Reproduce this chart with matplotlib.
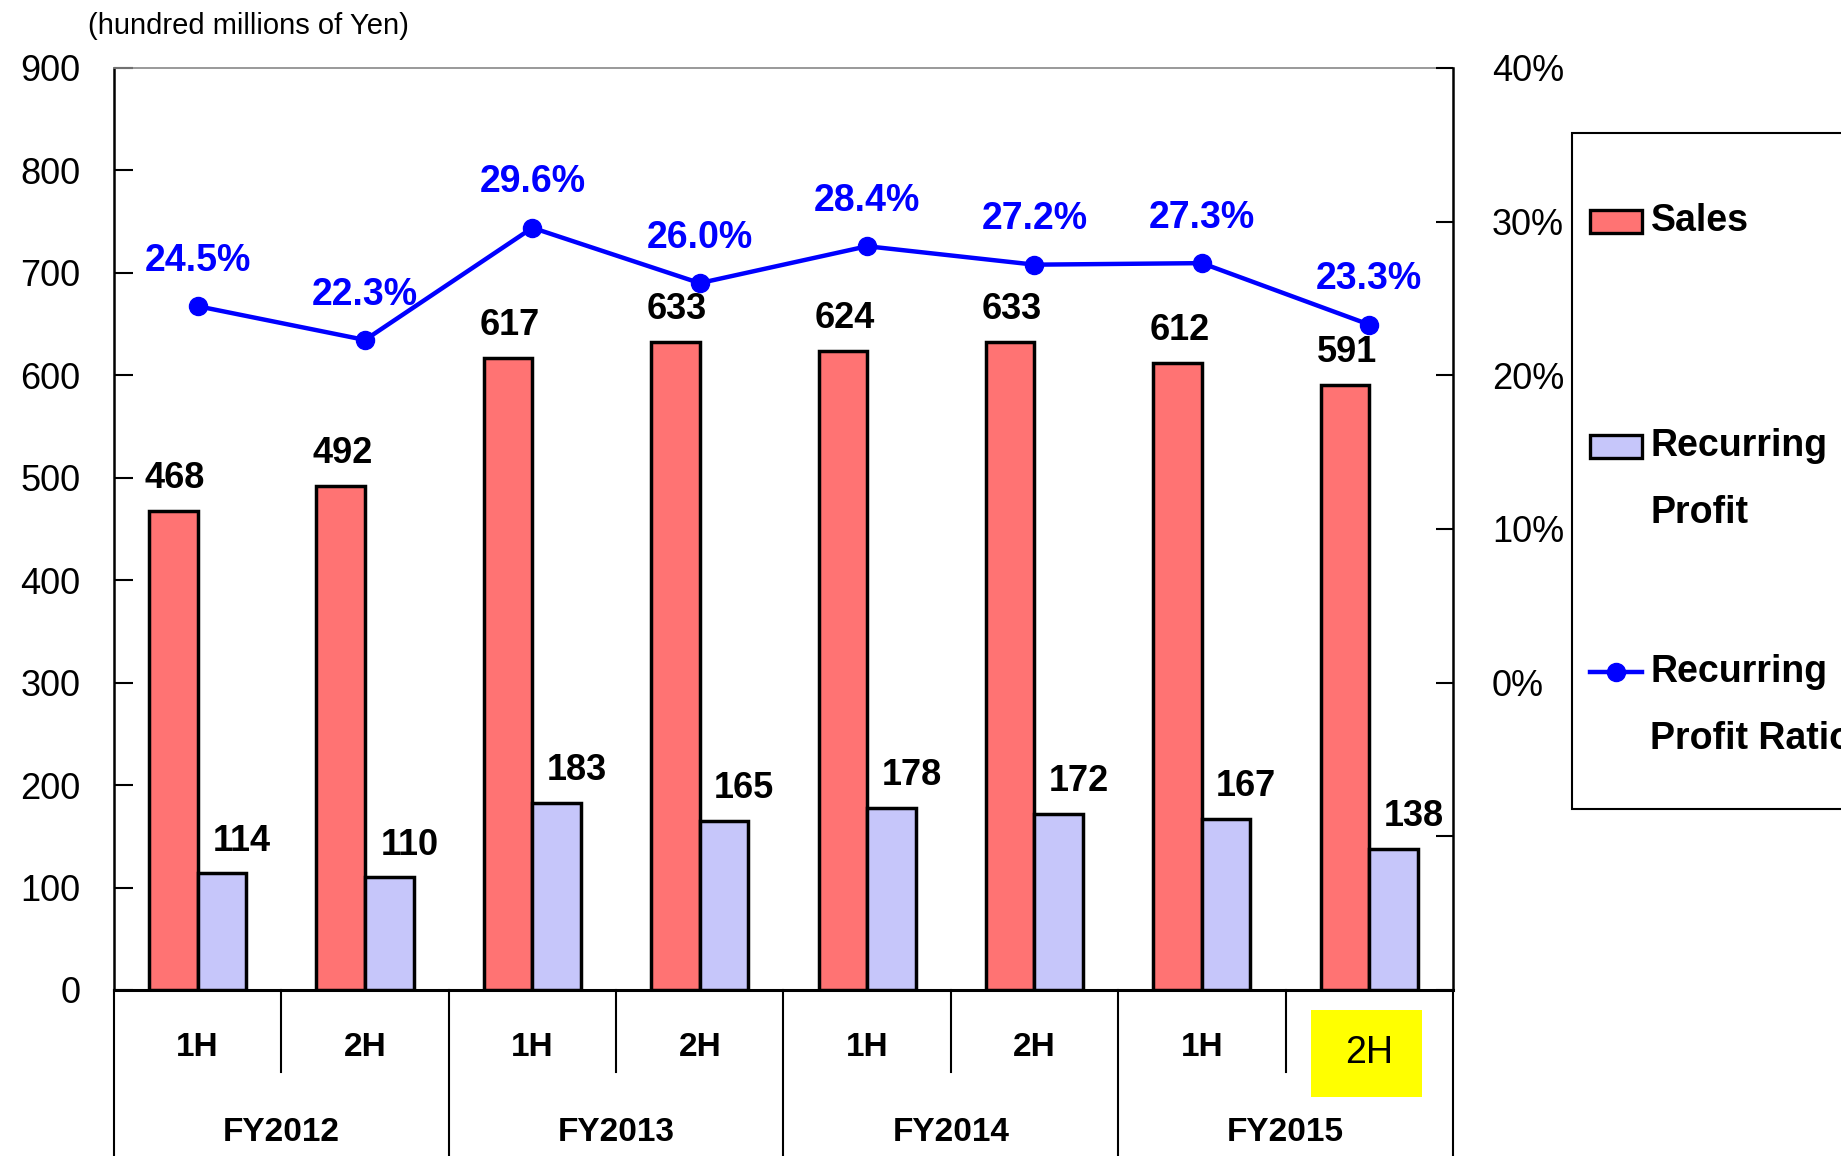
import matplotlib
matplotlib.use("Agg")
import matplotlib.pyplot as plt
from matplotlib.patches import Rectangle
from matplotlib.lines import Line2D
import numpy as np

plt.rcParams['font.family'] = ['Liberation Sans', 'DejaVu Sans']

halves = ["1H", "2H", "1H", "2H", "1H", "2H", "1H", "2H"]
years = ["FY2012", "FY2013", "FY2014", "FY2015"]
sales = [468, 492, 617, 633, 624, 633, 612, 591]
profit = [114, 110, 183, 165, 178, 172, 167, 138]
ratio = [24.5, 22.3, 29.6, 26.0, 28.4, 27.2, 27.3, 23.3]

sales_color = "#FF7373"
profit_color = "#C6C6FA"

fig = plt.figure(figsize=(18.41, 11.56), dpi=100)
ax = fig.add_axes([0.0619, 0.1436, 0.7273, 0.7976])

x = np.arange(len(sales)) + 0.5
w = 0.29
ax.bar(x - w / 2, sales, w, color=sales_color, edgecolor="black", linewidth=2.5, zorder=3)
ax.bar(x + w / 2, profit, w, color=profit_color, edgecolor="black", linewidth=2.5, zorder=3)

for xi, v in zip(x, sales):
    ax.text(xi - w / 2 + 0.01, v + 22, str(v), ha="center", va="baseline", fontsize=26, fontweight="bold")
for xi, v in zip(x, profit):
    ax.text(xi + w / 2 + 0.12, v + 22, str(v), ha="center", va="baseline", fontsize=26, fontweight="bold")

ax.set_xlim(0, 8)
ax.set_ylim(0, 900)
ax.set_yticks(range(0, 901, 100))
ax.tick_params(axis="y", direction="in", length=14, width=1.5, labelsize=26, pad=24)
ax.set_xticks([])
ax.spines["top"].set_color("#888888")
ax.spines["top"].set_linewidth(1.2)
ax.spines["left"].set_linewidth(1.8)
ax.spines["bottom"].set_linewidth(2.2)
ax.spines["right"].set_visible(False)

ax2 = ax.twinx()
ax2.set_ylim(-20, 40)
ax2.set_yticks([-20, -10, 0, 10, 20, 30, 40])
ax2.set_yticklabels(["", "", "0%", "10%", "20%", "30%", "40%"])
ax2.tick_params(axis="y", direction="in", length=12, width=1.5, labelsize=26, pad=28)
ax2.spines["right"].set_linewidth(1.8)
for s in ["top", "left", "bottom"]:
    ax2.spines[s].set_visible(False)
ax2.plot(x, ratio, color="#0000FF", linewidth=3.2, marker="o", markersize=13, zorder=5)
for xi, r in zip(x, ratio):
    ax2.text(xi, r + 2.3, f"{r:.1f}%", ha="center", va="baseline", color="#0000FF",
             fontsize=27, fontweight="bold")

# category area below the axes
tr = ax.get_xaxis_transform()
for i in range(0, 9, 2):
    ax.plot([i, i], [0, -0.18], transform=tr, color="black", linewidth=1.5, clip_on=False)
for i in range(1, 8, 2):
    ax.plot([i, i], [0, -0.089], transform=tr, color="black", linewidth=1.5, clip_on=False)

for i, (xi, h) in enumerate(zip(x, halves)):
    if i == len(halves) - 1:
        ax.add_patch(Rectangle((7.15, -0.116), 0.665, 0.094, transform=tr,
                               facecolor="#FFFF00", edgecolor="none", clip_on=False))
        ax.text(xi, -0.068, h, transform=tr, ha="center", va="center", fontsize=27)
    else:
        ax.text(xi, -0.062, h, transform=tr, ha="center", va="center", fontsize=24, fontweight="bold")
for j, y in enumerate(years):
    ax.text(2 * j + 1, -0.155, y, transform=tr, ha="center", va="center", fontsize=24, fontweight="bold")

fig.text(0.0478, 0.9775, "(hundred millions of Yen)", fontsize=21, ha="left", va="center")

# legend drawn by hand, partly running past the figure edge
fig.patches.append(Rectangle((0.854, 0.300), 0.2, 0.585, transform=fig.transFigure,
                             facecolor="white", edgecolor="black", linewidth=1.5))
fig.patches.append(Rectangle((0.8638, 0.7985), 0.028, 0.02, transform=fig.transFigure,
                             facecolor=sales_color, edgecolor="black", linewidth=2.4))
fig.text(0.8965, 0.809, "Sales", fontsize=27, fontweight="bold", va="center")
fig.patches.append(Rectangle((0.8638, 0.6035), 0.028, 0.02, transform=fig.transFigure,
                             facecolor=profit_color, edgecolor="black", linewidth=2.4))
fig.text(0.8965, 0.614, "Recurring", fontsize=27, fontweight="bold", va="center")
fig.text(0.8965, 0.556, "Profit", fontsize=27, fontweight="bold", va="center")
fig.lines.append(Line2D([0.8638, 0.8918], [0.419, 0.419], transform=fig.transFigure,
                        color="#0000FF", linewidth=3.2))
fig.lines.append(Line2D([0.8778], [0.419], transform=fig.transFigure,
                        color="#0000FF", marker="o", markersize=13))
fig.text(0.8965, 0.419, "Recurring", fontsize=27, fontweight="bold", va="center")
fig.text(0.8965, 0.361, "Profit Ratio", fontsize=27, fontweight="bold", va="center")

fig.savefig("out.png", dpi=100)
